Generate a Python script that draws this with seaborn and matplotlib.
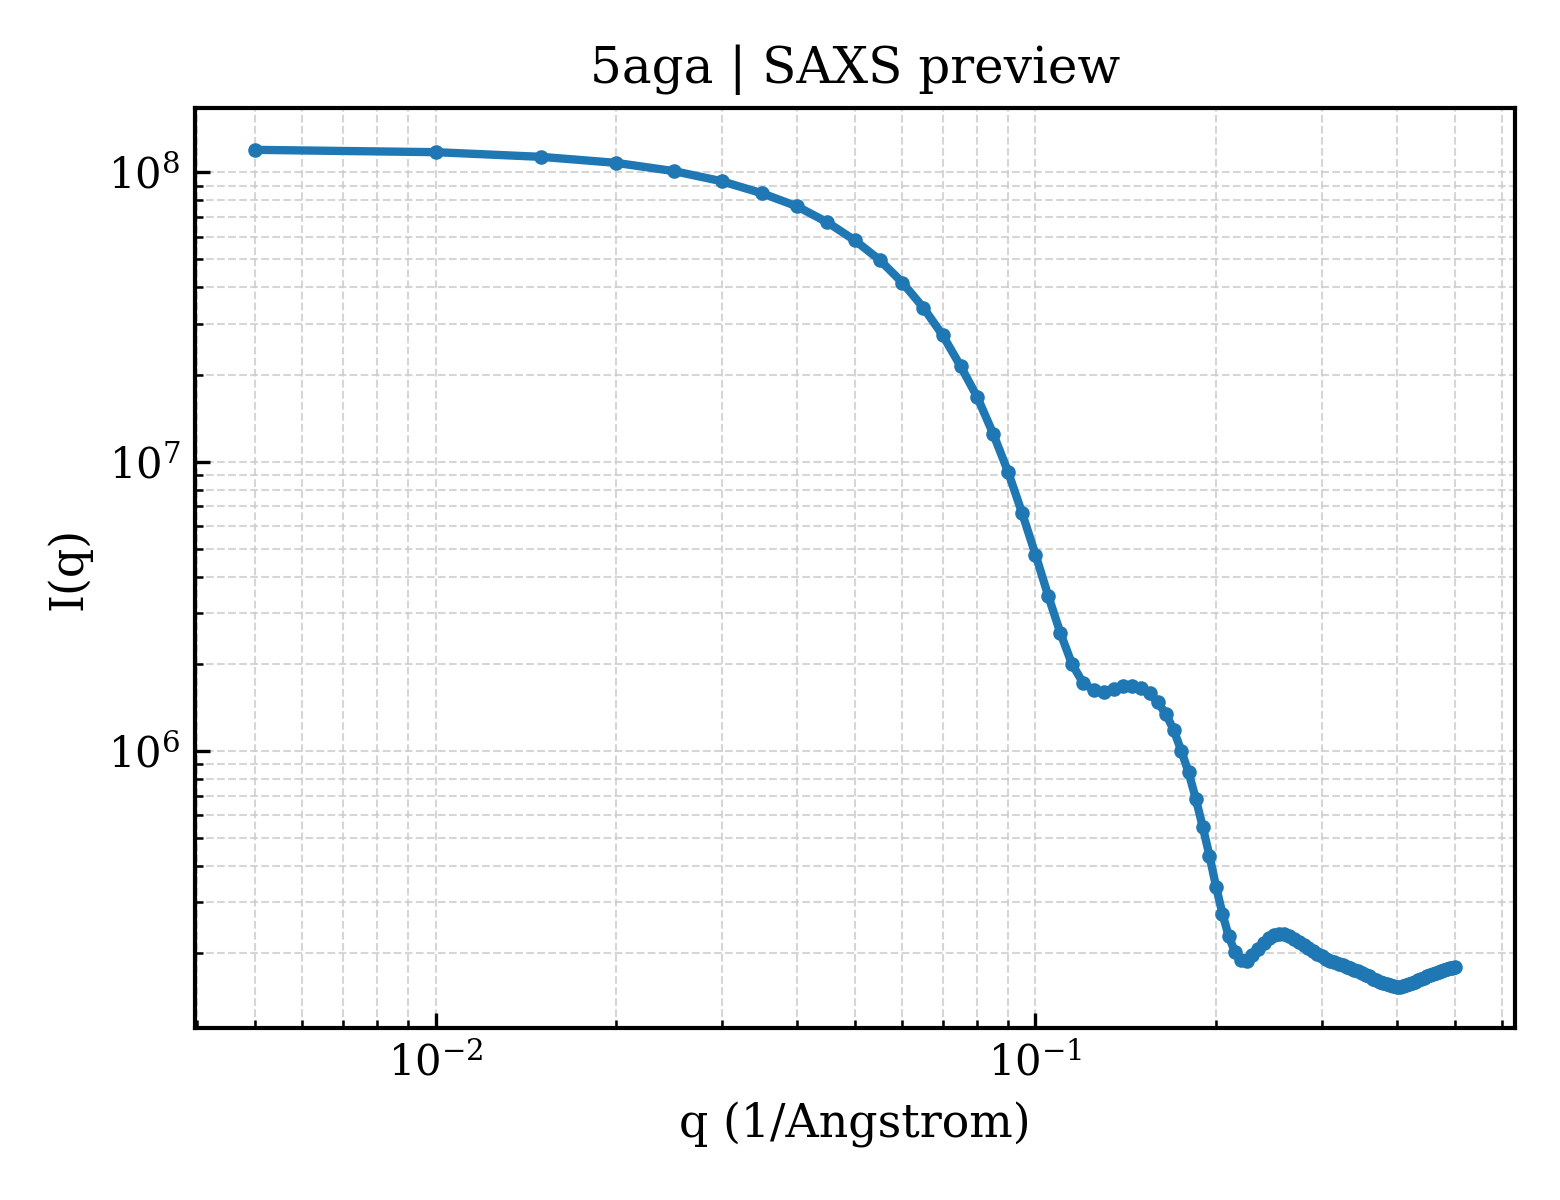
import numpy as np
import pandas as pd
import matplotlib
matplotlib.use("Agg")
import matplotlib.pyplot as plt
import seaborn as sns

# ---- data ----
q_values = [
    0.005, 0.010, 0.015, 0.020, 0.025, 0.030, 0.035, 0.040, 0.045, 0.050,
    0.055, 0.060, 0.065, 0.070, 0.075, 0.080, 0.085, 0.090, 0.095, 0.100,
    0.105, 0.110, 0.115, 0.120, 0.125, 0.130, 0.135, 0.140, 0.145, 0.150,
    0.155, 0.160, 0.165, 0.170, 0.175, 0.180, 0.185, 0.190, 0.195, 0.200,
    0.205, 0.210, 0.215, 0.220, 0.225, 0.230, 0.235, 0.240, 0.245, 0.250,
    0.255, 0.260, 0.265, 0.270, 0.275, 0.280, 0.285, 0.290, 0.295, 0.300,
    0.305, 0.310, 0.315, 0.320, 0.325, 0.330, 0.335, 0.340, 0.345, 0.350,
    0.355, 0.360, 0.365, 0.370, 0.375, 0.380, 0.385, 0.390, 0.395, 0.400,
    0.405, 0.410, 0.415, 0.420, 0.425, 0.430, 0.435, 0.440, 0.445, 0.450,
    0.455, 0.460, 0.465, 0.470, 0.475, 0.480, 0.485, 0.490, 0.495, 0.500,
]
intensity = [
    1.197e8, 1.175e8, 1.132e8, 1.079e8, 1.010e8, 9.32e7, 8.47e7, 7.64e7, 6.72e7, 5.82e7,
    4.98e7, 4.16e7, 3.41e7, 2.74e7, 2.14e7, 1.67e7, 1.25e7, 9.23e6, 6.64e6, 4.77e6,
    3.44e6, 2.56e6, 2.00e6, 1.72e6, 1.62e6, 1.60e6, 1.64e6, 1.67e6, 1.67e6, 1.65e6,
    1.58e6, 1.47e6, 1.34e6, 1.18e6, 1.00e6, 8.42e5, 6.83e5, 5.47e5, 4.34e5, 3.39e5,
    2.73e5, 2.28e5, 2.02e5, 1.89e5, 1.88e5, 1.97e5, 2.07e5, 2.17e5, 2.25e5, 2.30e5,
    2.33e5, 2.32e5, 2.28e5, 2.23e5, 2.18e5, 2.13e5, 2.08e5, 2.03e5, 1.99e5, 1.95e5,
    1.91e5, 1.88e5, 1.86e5, 1.83e5, 1.81e5, 1.79e5, 1.77e5, 1.75e5, 1.73e5, 1.70e5,
    1.68e5, 1.66e5, 1.63e5, 1.61e5, 1.59e5, 1.58e5, 1.56e5, 1.55e5, 1.54e5, 1.53e5,
    1.53e5, 1.54e5, 1.55e5, 1.56e5, 1.57e5, 1.59e5, 1.61e5, 1.63e5, 1.64e5, 1.66e5,
    1.68e5, 1.69e5, 1.71e5, 1.72e5, 1.73e5, 1.75e5, 1.76e5, 1.77e5, 1.78e5, 1.79e5,
]
title_text = "5aga | SAXS preview"
x_label = "q (1/Angstrom)"
y_label = "I(q)"

df = pd.DataFrame({"q": q_values, "I": intensity})

sns.set_style("ticks")
plt.rcParams.update({
    "font.family": ["DejaVu Serif"],
    "mathtext.fontset": "dejavuserif",
    "text.color": "black",
    "axes.labelcolor": "black",
    "axes.titlecolor": "black",
    "axes.linewidth": 1.0,
    "xtick.direction": "in",
    "ytick.direction": "in",
    "xtick.color": "black",
    "ytick.color": "black",
    "xtick.labelcolor": "black",
    "ytick.labelcolor": "black",
    "axes.edgecolor": "black",
    "xtick.major.size": 3.5,
    "ytick.major.size": 3.5,
    "xtick.minor.size": 2.0,
    "ytick.minor.size": 2.0,
    "xtick.major.width": 0.8,
    "ytick.major.width": 0.8,
    "xtick.minor.width": 0.6,
    "ytick.minor.width": 0.6,
    "axes.xmargin": 0.05,
    "axes.ymargin": 0.05,
})

fig, ax = plt.subplots(figsize=(5.2, 4.0), dpi=300)
fig.subplots_adjust(left=0.125, right=0.971, top=0.91, bottom=0.143)

ax.set_xscale("log")
ax.set_yscale("log")
sns.lineplot(data=df, x="q", y="I", ax=ax, color="#1f77b4", linewidth=2.0,
             marker="o", markersize=3.5, markeredgewidth=0, sort=False)

ax.grid(True, which="both", linestyle="--", linewidth=0.5, color="#cccccc", alpha=0.8)
ax.set_axisbelow(True)

ax.set_title(title_text, fontsize=12, color="black")
ax.set_xlabel(x_label, fontsize=11, color="black")
ax.set_ylabel(y_label, fontsize=11, color="black")
ax.tick_params(axis="both", which="major", labelsize=10, labelcolor="black")

for s in ax.spines.values():
    s.set_visible(True)
    s.set_color("black")

fig.savefig("out.png", dpi=300)
